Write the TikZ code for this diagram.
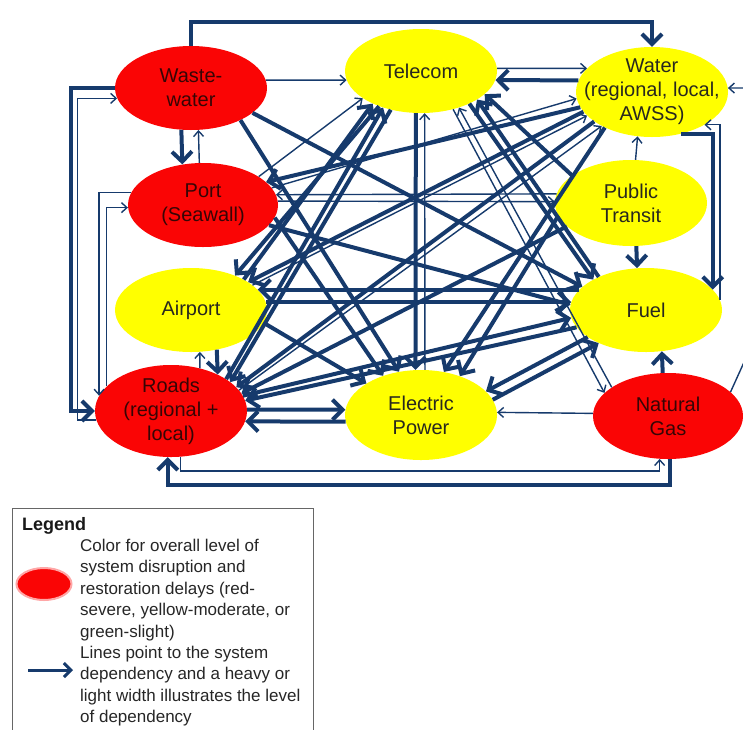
\documentclass[tikz,border=0pt]{standalone}
\usepackage{fontspec}
\setmainfont{Liberation Sans}
\usetikzlibrary{shapes.geometric,arrows.meta,calc}
\definecolor{navy}{RGB}{22,58,108}
\definecolor{sysred}{RGB}{250,5,5}
\definecolor{sysyellow}{RGB}{255,255,0}
\definecolor{redtext}{RGB}{55,5,5}
\definecolor{yeltext}{RGB}{40,40,30}
\begin{document}
\begin{tikzpicture}[x=1pt,y=-1pt,
  sys/.style={ellipse, inner sep=0pt, minimum width=152pt, minimum height=84pt},
  redsys/.style={sys, fill=sysred},
  yelsys/.style={sys, fill=sysyellow},
  rlab/.style={font=\fontsize{20}{24}\selectfont, align=center, text=redtext},
  ylab/.style={font=\fontsize{20}{24}\selectfont, align=center, text=yeltext},
  lt/.style={draw=navy, line width=1.4pt, -{Straight Barb[length=5.5pt,width=10pt]}},
  hv/.style={draw=navy, line width=4pt, -{Straight Barb[length=10pt,width=20pt]}},
  legtext/.style={font=\fontsize{17}{21.4}\selectfont, align=left, inner sep=0pt, text=black!85},
]
\useasboundingbox (0,0) rectangle (743,729);

% systems
\node[redsys] (ww) at (191,88) [label={[rlab]center:{Waste-\\water}}] {};
\node[redsys, minimum width=150pt] (port) at (203,205) [label={[rlab]center:{Port\\(Seawall)}}] {};
\node[yelsys] (air) at (191,310) [label={[ylab]center:{Airport}}] {};
\node[redsys, minimum height=92pt] (roads) at (171,411) [label={[rlab]center:{Roads\\(regional +\\local)}}] {};
\node[yelsys] (tel) at (421,71) [label={[ylab]center:{Telecom}}] {};
\node[yelsys, minimum height=90pt] (ep) at (421,415) [label={[ylab]center:{Electric\\Power}}] {};
\node[yelsys, minimum height=90pt] (water) at (652,92) [label={[ylab]center:{Water\\(regional, local,\\AWSS)}}] {};
\node[yelsys, minimum height=86pt] (pt) at (631,203) [label={[ylab]center:{Public\\Transit}}] {};
\node[yelsys] (fuel) at (646,310) [label={[ylab]center:{Fuel}}] {};
\node[redsys, minimum width=150pt, minimum height=86pt] (ng) at (668,416) [label={[rlab]center:{Natural\\Gas}}] {};

% orthogonal and short connectors
\draw[hv] (ww.north) -- ++(0,-24) -| (water.north);
\draw[hv] (ww.west) -- ++(-44,0) |- (roads.west);
\draw[lt] (roads.187) -- ++(-19,0) |- (ww.188);
\draw[lt] (port.170) -| (roads.168);
\draw[lt] (roads.159) |- (port.182);
\draw[hv] (ww.257) -- (port.117);
\draw[lt] (port.95) -- (ww.280);
\draw[hv] (air.303) -- (roads.38);
\draw[lt] (roads.56) -- (air.282);
\draw[hv] (air.6) -- (fuel.174);
\draw[hv] (fuel.163) -- (air.17);
\draw[hv] (roads.1) -- (ep.176);
\draw[hv] (ep.185) -- (roads.352);
\draw[lt] (ng.178) -- (ep.2);
\draw[hv] (ng.272) -- ++(0,26) -| (roads.266);
\draw[lt] (roads.282) -- ++(0,14) -| (ng.259);
\draw[lt] (ww.6) -- (tel.187);
\draw[lt] (tel.2) -- (water.160);
\draw[hv] (water.171) -- (tel.353);
\draw[lt] (pt.84) -- (water.252);
\draw[hv] (pt.277) -- (fuel.102);
\draw[hv] (water.305) -| (fuel.17);
\draw[lt] (fuel.8) |- (water.328);
\draw[lt] (ng.21) -- ($(ng.21)+(24,-53)$) |- (water.3);
\draw[hv] (fuel.205) -- (ep.20);
\draw[hv] (ep.12) -- (fuel.215);
\draw[hv] (ng.97) -- (fuel.291);
\draw[hv] (tel.263) -- (ep.97);
\draw[lt] (ep.85) -- (tel.275);
\draw[lt] (pt.173) -- (port.8);
\draw[lt] (port.3) -- (pt.179);

% diagonal connectors
\draw[hv] (ww.338) -- (fuel.160);
\draw[hv] (ww.327) -- (ep.117);
\draw[hv] (port.343) -- (fuel.176);
\draw[hv] (port.350) -- (ep.134);
\draw[lt] (port.27) -- (tel.205);
\draw[hv] (water.192) -- (port.20);
\draw[lt] (port.14) -- (water.185);
\draw[hv] (air.30) -- (tel.214);
\draw[hv] (tel.220) -- (air.38);
\draw[lt] (air.22) -- (water.200);
\draw[hv] (water.196) -- (air.26);
\draw[hv] (air.350) -- (ep.150);
\draw[hv] (roads.30) -- (tel.224);
\draw[hv] (tel.232) -- (roads.26);
\draw[hv] (water.207) -- (roads.20);
\draw[lt] (roads.17) -- (water.214);
\draw[hv] (roads.12) -- (fuel.186);
\draw[hv] (fuel.194) -- (roads.8);
\draw[hv] (pt.200) -- (roads.14);
\draw[hv] (tel.326) -- (fuel.150);
\draw[hv] (fuel.145) -- (tel.333);
\draw[lt] (tel.310) -- (ng.160);
\draw[lt] (ng.153) -- (tel.316);
\draw[hv] (water.217) -- (ep.62);
\draw[hv] (pt.190) -- (ep.45);
\draw[hv] (pt.155) -- (tel.340);

% legend
\draw[draw=black!60, line width=0.8pt] (12,735) |- (313,508) -- (313,735);
\node[font=\bfseries\fontsize{18}{21}\selectfont, anchor=base west, inner sep=0pt, text=black!90] (legtitle) at (22,530) {Legend};
\node[ellipse, fill=sysred, draw=red!35, line width=2pt, minimum width=55pt, minimum height=32pt, inner sep=0pt] (legell) at (44,584) {};
\node[legtext, anchor=north west] (legt1) at (80,539) {Color for overall level of\\system disruption and\\restoration delays (red-\\severe, yellow-moderate, or\\green-slight)\\Lines point to the system\\dependency and a heavy or\\light width illustrates the level\\of dependency};
\coordinate (la1) at (28,670);
\coordinate (la2) at (73,670);
\draw[draw=navy, line width=3pt, -{Straight Barb[length=7pt,width=14pt]}] (la1) -- (la2);
\end{tikzpicture}
\end{document}
